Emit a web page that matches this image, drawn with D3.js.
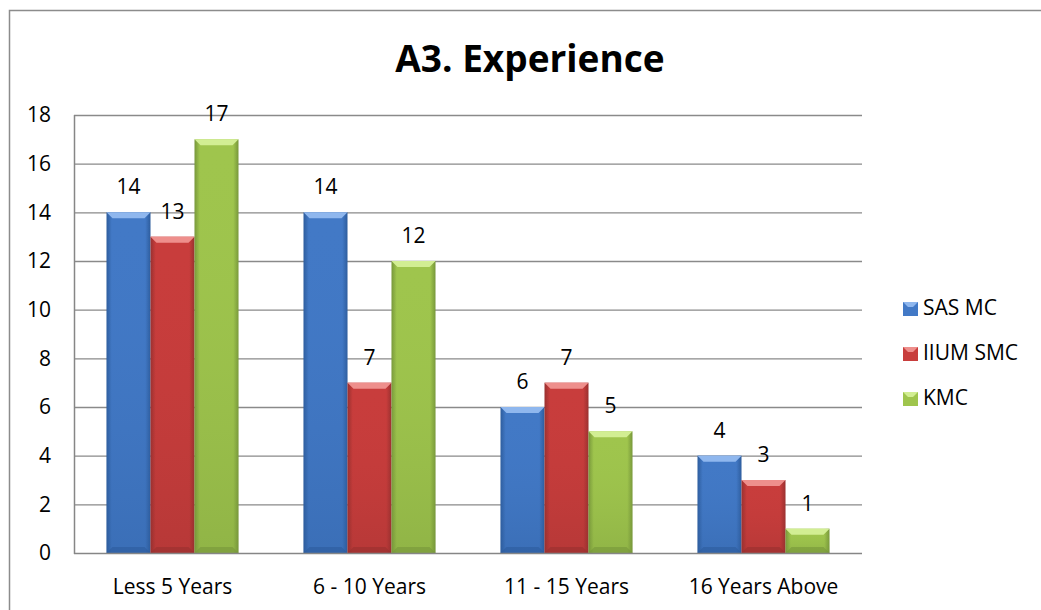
<!DOCTYPE html>
<html><head><meta charset="utf-8">
<script src="https://cdn.jsdelivr.net/npm/d3@7"></script>
<style>
html,body{margin:0;padding:0;background:#fff;}
svg{display:block;font-family:"Open Sans",sans-serif;}
</style></head>
<body>
<svg id="chart" width="1041" height="610"></svg>
<script>
const categories = ["Less 5 Years", "6 - 10 Years", "11 - 15 Years", "16 Years Above"];
const seriesNames = ["SAS MC", "IIUM SMC", "KMC"];
const sasMC = [14, 14, 6, 4];
const iiumSMC = [13, 7, 7, 3];
const kmc = [17, 12, 5, 1];
const yTicks = [0, 2, 4, 6, 8, 10, 12, 14, 16, 18];
const chartTitle = "A3. Experience";

(function(){
const FONT = "Open Sans";
const FS = "21px";
const seriesValues = [sasMC, iiumSMC, kmc];
const colors = [
  {main:"#4279c6", light:"#8fb7ee", dark:"#2d5c9c"},
  {main:"#c83d3c", light:"#ee8f8c", dark:"#98302f"},
  {main:"#9fc54d", light:"#d2ee93", dark:"#76963a"}
];

const svg = d3.select("#chart");
const defs = svg.append("defs");
colors.forEach((c,i)=>{
  const g = defs.append("linearGradient").attr("id","g"+i).attr("x1","0").attr("x2","1").attr("y1","0").attr("y2","0");
  g.append("stop").attr("offset","0").attr("stop-color",c.dark);
  g.append("stop").attr("offset","0.12").attr("stop-color",c.main);
  g.append("stop").attr("offset","0.88").attr("stop-color",c.main);
  g.append("stop").attr("offset","1").attr("stop-color",c.dark);
  const v = defs.append("linearGradient").attr("id","v"+i).attr("x1","0").attr("x2","0").attr("y1","0").attr("y2","1");
  v.append("stop").attr("offset","0").attr("stop-color",c.main).attr("stop-opacity",0);
  v.append("stop").attr("offset","1").attr("stop-color",c.dark).attr("stop-opacity",0.35);
});

svg.append("path").attr("d","M9.5,610 L9.5,10.5 L1041,10.5").attr("fill","none").attr("stroke","#8c8c8c").attr("stroke-width",1.5);

const pl = 74, pr = 862, pt = 115, pb = 553;
const x0 = d3.scaleBand().domain(categories).range([pl, pr]).paddingInner(0.33).paddingOuter(0.165);
const x1 = d3.scaleBand().domain(seriesNames).range([0, x0.bandwidth()]).padding(0);
const y = d3.scaleLinear().domain([0, 18]).range([pb, pt]);

svg.append("g").selectAll("line").data(yTicks.filter(d=>d>0)).join("line")
  .attr("x1", pl).attr("x2", pr).attr("y1", d=>y(d)+0.5).attr("y2", d=>y(d)+0.5)
  .attr("stroke","#8a8a8a").attr("stroke-width",1.3);

const yAxis = d3.axisLeft(y).tickValues(yTicks).tickSize(0).tickPadding(23);
const ya = svg.append("g").attr("transform",`translate(${pl},0)`).call(yAxis);
ya.select(".domain").remove();
ya.selectAll("text").attr("font-size",FS).attr("fill","#000").attr("font-family",FONT);

const xAxis = d3.axisBottom(x0).tickSize(0).tickPadding(26);
const xa = svg.append("g").attr("transform",`translate(0,${pb})`).call(xAxis);
xa.select(".domain").remove();
xa.selectAll("text").attr("font-size",FS).attr("fill","#000").attr("font-family",FONT);

const groups = svg.append("g").selectAll("g").data(categories).join("g")
  .attr("transform", d=>`translate(${x0(d)},0)`);
groups.each(function(cat, ci){
  const g = d3.select(this);
  seriesNames.forEach((s, si)=>{
    const v = seriesValues[si][ci];
    const bx = x1(s), bw = x1.bandwidth(), by = y(v), bh = y(0)-y(v);
    const c = colors[si];
    g.append("rect").attr("x",bx).attr("y",by).attr("width",bw).attr("height",bh).attr("fill",`url(#g${si})`);
    g.append("rect").attr("x",bx).attr("y",by).attr("width",bw).attr("height",bh).attr("fill",`url(#v${si})`);
    const b = Math.min(6, bh/2);
    g.append("path").attr("d",`M${bx},${by} L${bx+bw},${by} L${bx+bw-b},${by+b} L${bx+b},${by+b} Z`).attr("fill",c.light);
    g.append("path").attr("d",`M${bx},${by+bh} L${bx+bw},${by+bh} L${bx+bw-b},${by+bh-b} L${bx+b},${by+bh-b} Z`).attr("fill",c.dark).attr("opacity",0.6);
    g.append("text").attr("x",bx+bw/2).attr("y",by-18).attr("text-anchor","middle")
      .attr("font-size",FS).attr("font-family",FONT).attr("fill","#000").text(v);
  });
});

svg.append("line").attr("x1",pl+0.5).attr("x2",pl+0.5).attr("y1",pt).attr("y2",pb+1).attr("stroke","#868686").attr("stroke-width",1.5);
svg.append("line").attr("x1",pl).attr("x2",pr).attr("y1",pb+0.5).attr("y2",pb+0.5).attr("stroke","#868686").attr("stroke-width",1.5);

svg.append("text").attr("x",530).attr("y",72).attr("text-anchor","middle")
  .attr("font-size","37px").attr("font-weight","bold").attr("font-family",FONT).attr("fill","#000").text(chartTitle);

const lg = svg.append("g").selectAll("g").data(seriesNames).join("g")
  .attr("transform",(d,i)=>`translate(903,${302 + i*45})`);
lg.append("rect").attr("width",15).attr("height",14).attr("fill",(d,i)=>colors[i].main);
lg.append("path").attr("d","M0,0 L15,0 L10,5 L5,5 Z").attr("fill",(d,i)=>colors[i].light);
lg.append("text").attr("x",20).attr("y",13).attr("font-size",FS).attr("font-family",FONT).attr("fill","#000").text(d=>d);
})();
</script>
</body></html>
